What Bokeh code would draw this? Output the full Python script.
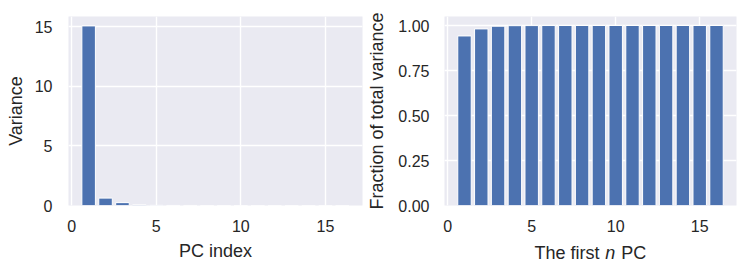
from bokeh.plotting import figure
from bokeh.layouts import row, column
from bokeh.models import Range1d, FixedTicker, NumeralTickFormatter, Label
from bokeh.embed import file_html
from bokeh.resources import INLINE

pc_index = list(range(1, 17))
variance = [15.07, 0.62, 0.24, 0.05, 0.012, 0.006, 0.004, 0.003,
            0.002, 0.0015, 0.001, 0.0008, 0.0005, 0.0003, 0.0002, 0.0001]
cum_fraction = [0.942, 0.981, 0.996, 0.999, 0.9995, 0.9998, 0.9999, 1.0,
                1.0, 1.0, 1.0, 1.0, 1.0, 1.0, 1.0, 1.0]
x_ticks = [0, 5, 10, 15]
left_y_ticks = [0, 5, 10, 15]
right_y_ticks = [0, 0.25, 0.5, 0.75, 1.0]

BG = "#EAEAF2"
BAR = "#4C72B0"
TXT = "#262626"
FONT = "Liberation Sans"
TICK_SIZE = "16px"
LABEL_SIZE = "18px"


def style(p):
    p.background_fill_color = BG
    p.border_fill_color = "white"
    p.outline_line_color = None
    for g in (p.xgrid, p.ygrid):
        g.grid_line_color = "white"
        g.grid_line_width = 1.4
    for ax in (p.xaxis, p.yaxis):
        ax.axis_line_color = None
        ax.major_tick_line_color = None
        ax.minor_tick_line_color = None
        ax.major_tick_out = 0
        ax.major_tick_in = 0
        ax.major_label_text_font = FONT
        ax.major_label_text_font_size = TICK_SIZE
        ax.major_label_text_color = TXT
        ax.axis_label_text_font = FONT
        ax.axis_label_text_font_size = LABEL_SIZE
        ax.axis_label_text_color = TXT
        ax.axis_label_text_font_style = "normal"
    p.xaxis.major_label_standoff = 14
    p.xaxis.ticker = FixedTicker(ticks=x_ticks)


x_range = Range1d(-0.19, 17.19)

p1 = figure(width=364, height=264, output_backend="svg", toolbar_location=None,
            x_range=Range1d(-0.19, 17.19), y_range=Range1d(0, 15.86),
            min_border_left=68, min_border_right=2, min_border_top=16,
            min_border_bottom=59)
style(p1)
p1.vbar(x=pc_index, top=variance, width=0.8, bottom=0,
        fill_color=BAR, line_color="white", line_width=1)
p1.yaxis.ticker = FixedTicker(ticks=left_y_ticks)
p1.yaxis.major_label_standoff = 16
p1.yaxis.axis_label_standoff = 6
p1.xaxis.axis_label_standoff = 6
p1.xaxis.axis_label = "PC index"
p1.yaxis.axis_label = "Variance"

p2 = figure(width=376, height=239, output_backend="svg", toolbar_location=None,
            x_range=x_range, y_range=Range1d(0, 1.05),
            min_border_left=78, min_border_right=4, min_border_top=16,
            min_border_bottom=34)
style(p2)
p2.vbar(x=pc_index, top=cum_fraction, width=0.8, bottom=0,
        fill_color=BAR, line_color="white", line_width=1)
p2.yaxis.ticker = FixedTicker(ticks=right_y_ticks)
p2.yaxis.formatter = NumeralTickFormatter(format="0.00")
p2.yaxis.major_label_standoff = 15
p2.yaxis.axis_label_standoff = 8
p2.yaxis.axis_label = "Fraction of total variance"

# strip below the right panel holding its x-axis title (with an italic "n"),
# sharing the panel's x scale
p3 = figure(width=376, height=26, output_backend="svg", toolbar_location=None,
            title=None, x_range=x_range, y_range=Range1d(0, 26),
            x_axis_type=None, y_axis_type=None,
            min_border_left=78, min_border_right=4, min_border_top=0,
            min_border_bottom=0)
p3.background_fill_color = "white"
p3.border_fill_color = "white"
p3.outline_line_color = None
p3.xgrid.visible = False
p3.ygrid.visible = False
for txt, xx, align, fstyle in [("The first", 9.03, "right", "normal"),
                               ("n", 9.68, "center", "italic"),
                               ("PC", 10.33, "left", "normal")]:
    p3.add_layout(Label(x=xx, y=12.6, text=txt, text_align=align,
                        text_baseline="alphabetic", text_font=FONT,
                        text_font_size=LABEL_SIZE, text_color=TXT,
                        text_font_style=fstyle))

layout = row(p1, column(p2, p3))
open("out.html", "w").write(file_html(layout, INLINE))
